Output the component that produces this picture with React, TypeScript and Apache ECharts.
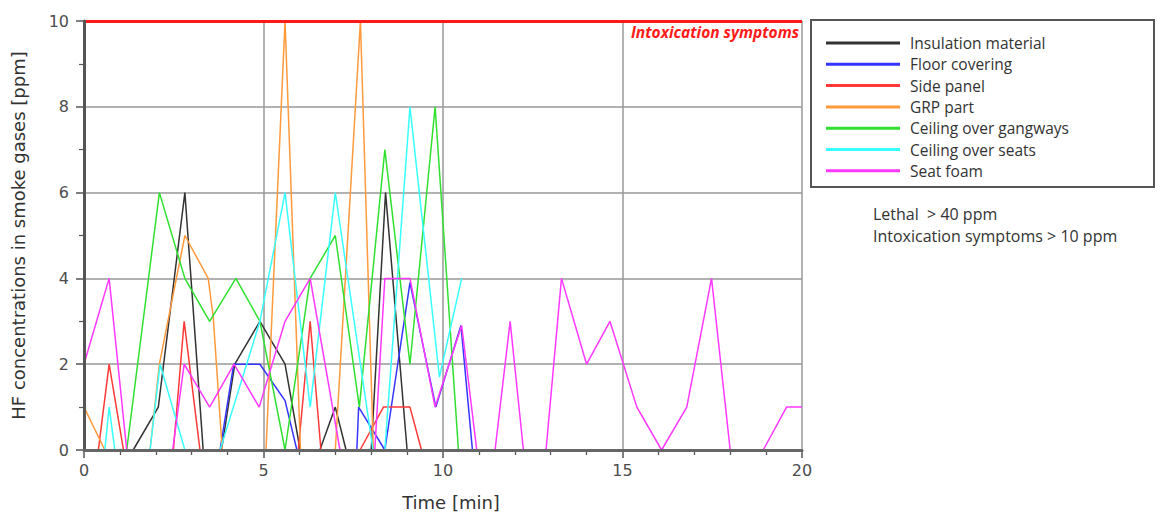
import React, { useEffect, useRef } from "react";
import * as echarts from "echarts";

// ---------- data ----------
const seriesNames = [
  "Insulation material",
  "Floor covering",
  "Side panel",
  "GRP part",
  "Ceiling over gangways",
  "Ceiling over seats",
  "Seat foam",
];
const seriesColors = ["#333333", "#3535ff", "#ff3838", "#ff9a3c", "#30e030", "#38ffff", "#ff38ff"];

const insulationTime = [1.37, 2.07, 2.81, 3.32, 3.83, 4.2, 4.9, 5.6, 6.02, 6.57, 7.0, 7.3, 8.0, 8.4, 9.0];
const insulationHF = [0, 1, 6, 0, 0, 2, 3, 2, 0, 0, 1, 0, 0, 6, 0];

const floorTime = [3.79, 4.17, 4.9, 5.6, 5.93, 7.6, 7.65, 8.38, 9.08, 9.8, 10.5, 10.82];
const floorHF = [0, 2, 2, 1.15, 0, 0, 1, 0, 3.9, 1, 2.9, 0];

const sidePanelTime = [0.4, 0.7, 1.1, 2.49, 2.79, 3.23, 5.97, 6.3, 6.6, 7.69, 8.34, 9.08, 9.4];
const sidePanelHF = [0, 2, 0, 0, 3, 0, 0, 3, 0, 0, 1, 1, 0];

const grpTime = [0, 0.58, 1.84, 2.1, 2.81, 3.46, 3.6, 3.85, 5.07, 5.6, 6.03, 7.0, 7.7, 8.06];
const grpHF = [1, 0, 0, 2, 5, 4, 3.1, 0, 0, 10, 0, 0, 10, 0];

const gangwaysTime = [1.19, 2.1, 2.81, 3.5, 4.23, 4.9, 5.6, 6.3, 7.0, 7.67, 8.38, 9.08, 9.78, 10.43];
const gangwaysHF = [0, 6, 4, 3, 4, 3, 0, 4, 5, 1, 7, 2, 8, 0];

const seatsTime = [0.58, 0.7, 0.86, 1.84, 2.12, 2.81, 3.79, 4.9, 5.6, 6.3, 7.0, 8.05, 8.38, 9.08, 9.9, 10.52];
const seatsHF = [0, 1, 0, 0, 2, 0, 0, 3, 6, 1, 6, 0, 0, 8, 1.7, 4];

const foamTime = [0, 0.7, 1.19, 2.47, 2.79, 3.5, 4.18, 4.88, 5.6, 6.3, 7.13, 8.1, 8.38, 9.08, 9.78, 10.52, 10.94, 11.45, 11.87, 12.24, 12.87, 13.3, 14.0, 14.65, 15.4, 16.09, 16.79, 17.48, 18.0, 18.92, 19.57, 20];
const foamHF = [2, 4, 0, 0, 2, 1, 2, 1, 3, 4, 0, 0, 4, 4, 1, 2.9, 0, 0, 3, 0, 0, 4, 2, 3, 1, 0, 1, 4, 0, 0, 1, 1];

const seriesTimes = [insulationTime, floorTime, sidePanelTime, grpTime, gangwaysTime, seatsTime, foamTime];
const seriesValues = [insulationHF, floorHF, sidePanelHF, grpHF, gangwaysHF, seatsHF, foamHF];

const xMin = 0;
const xMax = 20;
const xInterval = 5;
const yMin = 0;
const yMax = 10;
const yInterval = 2;

const intoxicationLevel = 10; // ppm
const lethalLevel = 40; // ppm

const xAxisTitle = "Time [min]";
const yAxisTitle = "HF concentrations in smoke gases [ppm]";
const thresholdLabel = "Intoxication symptoms";

// ---------- component ----------
const AXIS_FONT = "DejaVu Sans";
const TEXT_FONT = "Open Sans";

export default function App() {
  const ref = useRef<HTMLDivElement>(null);

  useEffect(() => {
    if (!ref.current) return;
    const chart = echarts.init(ref.current, undefined, { renderer: "svg" });

    const lineSeries = seriesNames.map((name, i) => ({
      name,
      type: "line",
      data: seriesTimes[i].map((t, k) => [t, seriesValues[i][k]]),
      showSymbol: false,
      symbol: "none",
      color: seriesColors[i],
      lineStyle: { color: seriesColors[i], width: 1.5 },
      emphasis: { disabled: true },
      z: 2,
    }));

    const option: any = {
      animation: false,
      backgroundColor: "#ffffff",
      grid: { left: 84, right: 355, top: 21, bottom: 70, containLabel: false },
      legend: {
        orient: "vertical",
        left: 821,
        top: 29,
        data: seriesNames.map((name) => ({ name, icon: "rect" })),
        itemWidth: 74,
        itemHeight: 3,
        itemGap: 3.3,
        selectedMode: false,
        textStyle: {
          fontFamily: TEXT_FONT,
          fontSize: 15.5,
          color: "#333",
          lineHeight: 18,
          padding: [0, 0, 0, 5],
        },
      },
      xAxis: [
        {
          type: "value",
          min: xMin,
          max: xMax,
          interval: xInterval,
          name: xAxisTitle,
          nameLocation: "middle",
          nameGap: 43,
          nameTextStyle: { fontFamily: AXIS_FONT, fontSize: 18, color: "#333", padding: [0, 0, 0, 16] },
          axisLine: { show: false },
          axisTick: { show: true, length: 8, lineStyle: { color: "#555", width: 1.5 } },
          minorTick: { show: true, splitNumber: 5, length: 5, lineStyle: { color: "#555", width: 1.3 } },
          axisLabel: { margin: 12, fontFamily: AXIS_FONT, fontSize: 16, color: "#4d4d4d" },
          splitLine: { show: true, lineStyle: { color: "#999", width: 1.5 } },
          minorSplitLine: { show: false },
        },
        {
          type: "value",
          min: xMin,
          max: xMax,
          position: "bottom",
          z: 10,
          axisLine: { show: true, onZero: false, lineStyle: { color: "#666", width: 3 } },
          axisTick: { show: false },
          axisLabel: { show: false },
          splitLine: { show: false },
        },
      ],
      yAxis: [
        {
          type: "value",
          min: yMin,
          max: yMax,
          interval: yInterval,
          name: yAxisTitle,
          nameLocation: "middle",
          nameGap: 57,
          nameRotate: 90,
          nameTextStyle: { fontFamily: AXIS_FONT, fontSize: 18, color: "#333" },
          axisLine: { show: false },
          axisTick: { show: true, length: 8, lineStyle: { color: "#555", width: 1.5 } },
          minorTick: { show: true, splitNumber: 2, length: 5, lineStyle: { color: "#555", width: 1.2 } },
          axisLabel: { margin: 15, fontFamily: AXIS_FONT, fontSize: 16, color: "#4d4d4d" },
          splitLine: { show: true, lineStyle: { color: "#999", width: 1.5 } },
          minorSplitLine: { show: false },
        },
        {
          type: "value",
          min: yMin,
          max: yMax,
          position: "left",
          z: 10,
          axisLine: { show: true, onZero: false, lineStyle: { color: "#555", width: 3 } },
          axisTick: { show: false },
          axisLabel: { show: false },
          splitLine: { show: false },
        },
      ],
      series: [
        ...lineSeries,
        {
          name: "threshold",
          type: "line",
          data: [],
          z: 5,
          markLine: {
            silent: true,
            symbol: ["none", "none"],
            data: [{ yAxis: intoxicationLevel }],
            lineStyle: { color: "#ff1a1a", width: 3, type: "solid" },
            label: {
              show: true,
              position: "insideEndBottom",
              formatter: thresholdLabel,
              color: "#ff1a1a",
              fontStyle: "italic",
              fontWeight: "bold",
              fontSize: 15.5,
              fontFamily: TEXT_FONT,
              distance: 3,
            },
          },
        },
      ],
      graphic: [
        {
          type: "rect",
          shape: { x: 811, y: 20, width: 343, height: 167 },
          style: { fill: "none", stroke: "#555", lineWidth: 2 },
          silent: true,
        },
        {
          type: "text",
          x: 873,
          y: 214,
          style: {
            text: `Lethal  > ${lethalLevel} ppm`,
            font: `16px "${TEXT_FONT}"`,
            fill: "#333",
            verticalAlign: "middle",
          },
        },
        {
          type: "text",
          x: 873,
          y: 236,
          style: {
            text: `Intoxication symptoms > ${intoxicationLevel} ppm`,
            font: `16px "${TEXT_FONT}"`,
            fill: "#333",
            verticalAlign: "middle",
          },
        },
      ],
    };

    chart.setOption(option);
    return () => chart.dispose();
  }, []);

  return (
    <div
      ref={ref}
      style={{ position: "fixed", left: 0, top: 0, width: 1157, height: 520, background: "#fff" }}
    />
  );
}
